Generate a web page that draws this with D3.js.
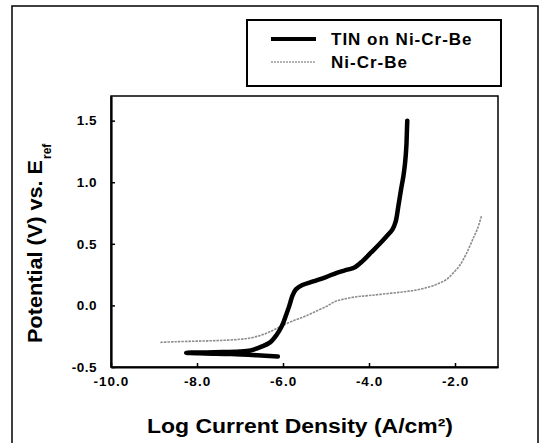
<!DOCTYPE html>
<html>
<head>
<meta charset="utf-8">
<script src="https://cdn.jsdelivr.net/npm/d3@7"></script>
<style>
  body { margin: 0; background: #fff; }
  text { font-family: "Liberation Sans", Arial, sans-serif; font-weight: bold; fill: #000; }
</style>
</head>
<body>
<svg id="chart" width="544" height="443"></svg>
<script>
// polarization curves
var seriesNames = ["TIN on Ni-Cr-Be", "Ni-Cr-Be"];

// TIN on Ni-Cr-Be (cathodic branch first, then anodic)
var tinLogI = [-6.12, -6.6, -7.2, -7.8, -8.25, -7.6, -7.0, -6.75, -6.5, -6.3, -6.15, -6.03, -5.93, -5.85,
    -5.78, -5.70, -5.55, -5.3, -5.0, -4.75, -4.5, -4.35, -4.15, -3.95, -3.75, -3.58, -3.45, -3.38,
    -3.32, -3.26, -3.20, -3.16, -3.13, -3.12, -3.11];
var tinE = [-0.415, -0.405, -0.395, -0.39, -0.385, -0.38, -0.375, -0.365, -0.335, -0.30, -0.24, -0.17, -0.08, 0.0,
    0.08, 0.13, 0.165, 0.195, 0.23, 0.265, 0.29, 0.305, 0.36, 0.43, 0.50, 0.565, 0.62, 0.68,
    0.80, 0.93, 1.05, 1.16, 1.30, 1.40, 1.50];

// bare Ni-Cr-Be
var nicrLogI = [-8.85, -8.5, -8.0, -7.5, -7.0, -6.7, -6.45, -6.25, -6.05, -5.8, -5.5, -5.25, -5.0, -4.8,
    -4.6, -4.3, -4.0, -3.6, -3.2, -2.9, -2.6, -2.4, -2.2, -2.05, -1.9, -1.78, -1.67, -1.57, -1.48, -1.38];
var nicrE = [-0.30, -0.295, -0.29, -0.285, -0.275, -0.26, -0.235, -0.205, -0.17, -0.13, -0.09, -0.05, -0.01, 0.03,
    0.05, 0.07, 0.08, 0.095, 0.11, 0.125, 0.15, 0.175, 0.21, 0.26, 0.32, 0.39, 0.47, 0.55, 0.62, 0.73];

var xTicks = [-10, -8, -6, -4, -2];
var yTicks = [-0.5, 0.0, 0.5, 1.0, 1.5];

var svg = d3.select("#chart");

const margin = {top: 96, right: 46, bottom: 76, left: 111};
const width = 544 - margin.left - margin.right;
const height = 443 - margin.top - margin.bottom;

// outer frame of the figure (bottom edge runs off the page)
svg.append("rect")
    .attr("x", 12).attr("y", 6)
    .attr("width", 526).attr("height", 460)
    .attr("fill", "none")
    .attr("stroke", "#000")
    .attr("stroke-width", 1.5);

const xscale = d3.scaleLinear().domain([-10, -1]).range([0, width]);
const yscale = d3.scaleLinear().domain([-0.5, 1.7]).range([height, 0]);

var g = svg.append("g").attr("transform", "translate(" + margin.left + "," + margin.top + ")");

// plot box
g.append("rect")
    .attr("width", width).attr("height", height)
    .attr("fill", "none")
    .attr("stroke", "#000")
    .attr("stroke-width", 1.5);

var xAxis = d3.axisBottom(xscale)
    .tickValues(xTicks)
    .tickFormat(d => d.toFixed(1))
    .tickSizeInner(-4)
    .tickSizeOuter(0)
    .tickPadding(9);

var yAxis = d3.axisLeft(yscale)
    .tickValues(yTicks)
    .tickFormat(d => d.toFixed(1))
    .tickSizeInner(-4)
    .tickSizeOuter(0)
    .tickPadding(14);

var gx = g.append("g").attr("transform", "translate(0," + height + ")").call(xAxis);
var gy = g.append("g").call(yAxis);

[gx, gy].forEach(function(a){
    a.select(".domain").attr("stroke-width", 2.2);
    a.selectAll(".tick line").attr("stroke-width", 1.5);
    a.selectAll(".tick text")
        .attr("font-family", "Liberation Sans, Arial, sans-serif")
        .attr("font-weight", "bold")
        .attr("font-size", 13.5);
});
gx.selectAll(".tick text").attr("letter-spacing", 1);
gy.selectAll(".tick text").attr("letter-spacing", 0.5);

var line = d3.line()
    .x(d => xscale(d[0]))
    .y(d => yscale(d[1]))
    .curve(d3.curveCatmullRom);

var nicr = d3.zip(nicrLogI, nicrE);
var tin = d3.zip(tinLogI, tinE);

g.append("path")
    .datum(nicr)
    .attr("d", line)
    .attr("fill", "none")
    .attr("stroke", "#8c8c8c")
    .attr("stroke-width", 1.6)
    .attr("stroke-dasharray", "2.5,1");

g.append("path")
    .datum(tin)
    .attr("d", line)
    .attr("fill", "none")
    .attr("stroke", "#000")
    .attr("stroke-width", 4.5)
    .attr("stroke-linejoin", "round")
    .attr("stroke-linecap", "round");

// axis titles
svg.append("text")
    .attr("x", 147).attr("y", 433)
    .attr("font-size", 20)
    .attr("textLength", 306)
    .attr("lengthAdjust", "spacingAndGlyphs")
    .text("Log Current Density (A/cm²)");

var yt = svg.append("text")
    .attr("transform", "translate(42,343) rotate(-90)")
    .attr("font-size", 21);
yt.append("tspan")
    .attr("textLength", 183)
    .attr("lengthAdjust", "spacingAndGlyphs")
    .text("Potential (V) vs. E");
yt.append("tspan").attr("font-size", 12).attr("dy", 9).attr("dx", 1).text("ref");

// legend
var legend = svg.append("g");
legend.append("rect")
    .attr("x", 247).attr("y", 20)
    .attr("width", 254).attr("height", 66)
    .attr("fill", "#fff")
    .attr("stroke", "#000")
    .attr("stroke-width", 2);

var legendRows = [
    {name: seriesNames[0], y: 39, stroke: "#000", sw: 4, dash: null, base: 45},
    {name: seriesNames[1], y: 62, stroke: "#9a9a9a", sw: 1.3, dash: "2,1", base: 68}
];
legendRows.forEach(function(r){
    legend.append("line")
        .attr("x1", 271).attr("x2", 316)
        .attr("y1", r.y).attr("y2", r.y)
        .attr("stroke", r.stroke)
        .attr("stroke-width", r.sw)
        .attr("stroke-dasharray", r.dash);
    legend.append("text")
        .attr("x", 331).attr("y", r.base)
        .attr("font-size", 17)
        .attr("letter-spacing", 1)
        .text(r.name);
});
</script>
</body>
</html>
